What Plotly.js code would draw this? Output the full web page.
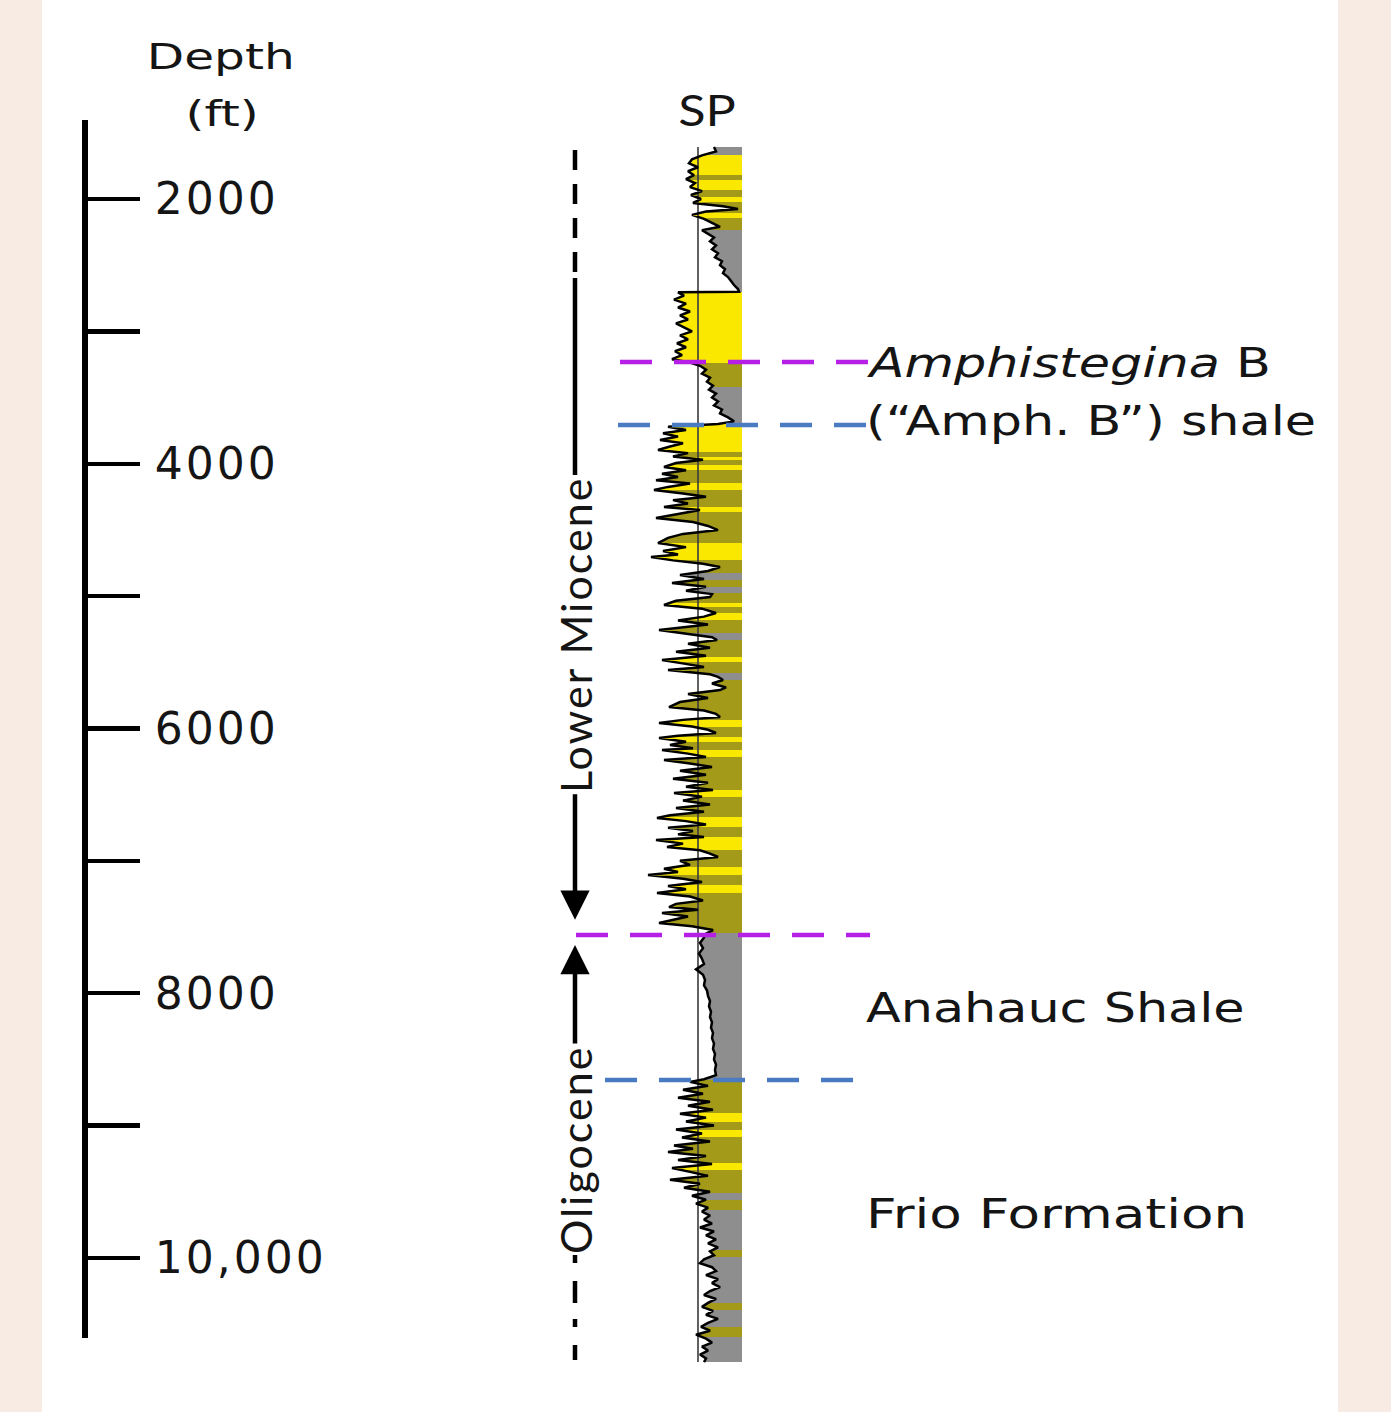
<!DOCTYPE html>
<html>
<head>
<meta charset="utf-8">
<script src="https://cdn.plot.ly/plotly-3.0.1.min.js"></script>
<style>
  html, body { margin: 0; padding: 0; background: #f8ebe3; }
  #chart { width: 1391px; height: 1412px; }
  .annotation-text { letter-spacing: 2px; }
  .y2tick text { letter-spacing: 3px; }
  .annotation[data-index="0"] .annotation-text,
  .annotation[data-index="1"] .annotation-text {
    letter-spacing: 0; transform: scaleX(1.35); transform-box: fill-box; transform-origin: center;
  }
  .annotation[data-index="2"] .annotation-text {
    letter-spacing: 0; transform: scaleX(1.2); transform-box: fill-box; transform-origin: center;
  }
  .annotation[data-index="7"] .annotation-text,
  .annotation[data-index="8"] .annotation-text,
  .annotation[data-index="9"] .annotation-text {
    letter-spacing: 0; transform: scaleX(1.27); transform-box: fill-box; transform-origin: left center;
  }
  .annotation[data-index="10"] .annotation-text {
    letter-spacing: 0; transform: scaleX(1.33); transform-box: fill-box; transform-origin: left center;
  }
</style>
</head>
<body>
<div id="chart"></div>
<script>
// ---------------- DATA ----------------
// Depth scale (ft)
const depthTicks = [2000, 3000, 4000, 5000, 6000, 7000, 8000, 9000, 10000];
const depthTickText = ['2000', '', '4000', '', '6000', '', '8000', '', '10,000'];

// Formation boundaries (ft)
const boundaryDepth = [3231, 3707, 7561, 8656];
const boundaryKind = ['top', 'base', 'top', 'base'];

// Formation labels
const formationLabels = ['<i>Amphistegina</i> B', '(\u201CAmph. B\u201D) shale', 'Anahauc Shale', 'Frio Formation'];
const formationLabelDepth = [3240, 3680, 8110, 9670];

// Series labels
const seriesLabels = ['Lower Miocene', 'Oligocene'];
const seriesLabelDepth = [5294, 9185];

// SP log: depth (ft) and SP deflection (mV, relative to shale baseline)
const spDepth = [
  1607,1640,1670,1700,1730,1760,1790,1820,1850,1880,1910,1940,1970,2000,2030,2055,2075,2095,2120,2150,2180,2210,2235,
  2260,2290,2320,2350,2380,2410,2440,2470,2500,2530,2560,2590,2620,2650,2680,2700,
  2705,2730,2760,2790,2820,2850,2880,2910,2940,2970,3000,3030,3060,3090,3120,3150,3180,3210,3235,
  3260,3290,3320,3350,3380,3410,3440,3470,3500,3530,3560,3590,3620,3650,3680,3700,
  3720,3745,3770,3795,3820,3845,3870,3896,3920,3945,3970,3995,4025,4050,4075,4100,4125,4150,4175,4199,
  4225,4250,4275,4300,4327,4350,4380,4410,4440,4470,4501,4530,4560,4599,4630,4660,4685,4705,4730,4755,
  4780,4810,4840,4870,4901,4930,4960,4985,5007,5035,5067,5095,5128,5155,5185,5215,5256,5285,5310,5332,
  5360,5390,5420,5450,5483,5510,5535,5558,5590,5610,5634,5660,5690,5710,5740,5770,5800,5838,5865,5890,
  5913,5935,5959,5985,6010,6034,6055,6072,6100,6125,6150,6163,6190,6215,6238,6265,6291,6320,6350,6380,
  6410,6440,6465,6488,6515,6545,6575,6600,6630,6655,6677,6700,6725,6750,6775,6800,6820,6843,6870,6896,
  6920,6945,6971,7000,7030,7060,7085,7107,7135,7160,7190,7215,7243,7270,7300,7325,7349,7370,7394,7420,
  7445,7470,7495,7523,7550,
  7580,7620,7660,7700,7740,7780,7820,7860,7900,7940,7980,8020,8060,8100,8140,8180,8220,8260,8300,8340,
  8380,8420,8460,8500,8540,8580,8620,8650,
  8670,8700,8730,8760,8790,8820,8850,8880,8910,8940,8970,9000,9030,9060,9090,9120,9150,9175,9200,9230,
  9260,9290,9320,9350,9380,9410,9440,9470,9500,9530,9560,9590,9620,9650,9680,9710,9740,9770,9800,9830,
  9860,9890,9920,9950,9980,10010,10040,10070,10100,10130,10160,10190,10220,10250,10280,10310,10340,10370,10400,10430,
  10460,10490,10520,10550,10580,10610,10640,10670,10700,10730,10760,10787
];
const spValue = [
  16,18,4,-6,-9,0,-10,-4,-12,-3,-8,4,-7,3,-5,25,40,8,-6,6,14,22,4,
  10,16,12,18,14,20,17,24,22,27,25,30,33,36,40,41,
  -20,-14,-24,-12,-20,-8,-18,-10,-22,-14,-6,-18,-10,-21,-12,-23,-16,-26,-8,
  2,8,4,12,9,15,11,18,14,20,16,24,22,30,36,20,
  -30,-12,-35,-20,-38,-15,-28,-40,-10,-25,5,-22,-34,-12,-36,-20,-42,-8,-30,-44,
  -15,8,-25,-10,-34,2,-20,-42,-5,10,20,-15,-30,-40,-12,-35,-20,-47,-25,5,
  22,10,-18,6,-26,8,-12,14,12,-22,-34,4,18,6,-20,10,-39,-8,14,19,
  -10,12,-22,8,-36,-14,6,-30,12,20,25,14,28,22,-10,10,-18,-29,6,18,
  22,-15,-39,-6,10,18,-20,-39,-12,-28,-5,-36,-10,8,-34,-8,14,-18,8,-25,
  10,-12,15,-24,4,-15,12,-22,6,-28,-41,-12,8,-30,-5,-20,6,-42,-15,-31,
  2,12,20,-18,-8,-34,-20,-50,-15,4,-30,-12,-41,-8,5,-22,-29,0,-36,-10,
  -25,-39,-6,15,8,
  6,2,5,1,4,6,-2,5,7,6,9,10,12,11,13,12,14,13,15,14,
  16,15,17,16,18,17,18,6,
  -8,10,-15,5,-20,12,-10,15,-18,8,-12,16,-22,4,-16,12,-24,-5,-30,8,
  -20,14,-26,-8,10,-28,2,-14,12,-6,8,-2,10,4,12,6,14,2,16,8,
  18,10,20,12,16,6,2,14,18,8,20,14,22,12,6,18,10,4,15,8,
  20,10,3,12,-2,8,14,4,10,2,8,6
];

// Lithology column: top depth of each band (ft) and lithology (0 shale, 1 shaly sand, 2 sand)
const lithTop = [
  1607,1668,1819,1856,1932,1985,2023,2106,2144,2234,2703,3239,3420,3695,
  3911,3949,3972,4010,4047,4146,4199,4327,4365,4599,4727,4826,4878,4931,4976,5052,
  5083,5128,5181,5279,5332,5460,5498,5581,5634,5936,5989,6065,6102,6163,6216,6465,
  6518,6669,6745,6820,6918,7047,7107,7183,7243,7545,
  8656,8905,8973,9033,9086,9283,9336,9509,9562,9638,9940,9993,10340,10394,10522,10597
];
const lithBase = 10787;
const lithCode = [
  0,2,1,2,1,2,1,2,1,0,2,1,0,2,
  1,2,1,2,1,2,1,2,1,2,1,0,1,0,1,2,
  1,2,1,0,1,2,1,0,1,2,1,2,1,2,1,2,
  1,2,1,2,1,2,1,2,1,0,
  1,2,1,2,1,2,1,0,1,0,1,0,1,0,1,0
];

// ---------------- RENDER ----------------
const W = 1391, H = 1412;
const px = x => x / W;
const py = y => 1 - y / H;

const lithEdges = lithTop.concat([lithBase]);
const lithZ = lithCode.map(c => [c]);

const maskX = [-60].concat(spValue, [-60]);
const maskY = [spDepth[0]].concat(spDepth, [spDepth[spDepth.length - 1]]);

const traces = [
  { // lithology column
    type: 'heatmap', xaxis: 'x2', yaxis: 'y',
    x: [-55, 44], y: lithEdges, z: lithZ,
    zmin: 0, zmax: 2, showscale: false, hoverinfo: 'skip',
    colorscale: [[0, '#8e8e8e'], [0.333, '#8e8e8e'], [0.333, '#a39a1a'], [0.667, '#a39a1a'], [0.667, '#fbe800'], [1, '#fbe800']]
  },
  { // white mask left of SP curve
    type: 'scatter', mode: 'lines', xaxis: 'x2', yaxis: 'y',
    x: maskX, y: maskY, fill: 'toself', fillcolor: '#ffffff',
    line: { width: 0, color: 'rgba(0,0,0,0)' }, hoverinfo: 'skip', showlegend: false
  },
  { // shale baseline
    type: 'scatter', mode: 'lines', xaxis: 'x2', yaxis: 'y',
    x: [0, 0], y: [spDepth[0], spDepth[spDepth.length - 1]],
    line: { width: 1.6, color: '#3a3a3a' }, hoverinfo: 'skip', showlegend: false
  },
  { // SP curve
    type: 'scatter', mode: 'lines', xaxis: 'x2', yaxis: 'y',
    x: spValue, y: spDepth,
    line: { width: 2.5, color: '#000000' }, hoverinfo: 'skip', showlegend: false
  },
  { // anchor for depth scale axis
    type: 'scatter', mode: 'markers', xaxis: 'x', yaxis: 'y2',
    x: [10], y: [depthTicks[0]], marker: { opacity: 0 }, hoverinfo: 'skip', showlegend: false
  }
];

const purple = '#b51fe6', blue = '#4a7bc2';
const lineStart = [620, 618, 576, 605];
const lineEnd = [870, 870, 870, 860];

const shapes = [
  { type: 'rect', xref: 'paper', yref: 'paper', x0: px(42), x1: px(1338), y0: 0, y1: 1,
    fillcolor: '#ffffff', line: { width: 0 }, layer: 'below' }
];
boundaryDepth.forEach((d, i) => {
  shapes.push({
    type: 'line', xref: 'paper', yref: 'y', x0: px(lineStart[i]), x1: px(lineEnd[i]), y0: d, y1: d,
    line: { color: boundaryKind[i] === 'top' ? purple : blue, width: 4.5, dash: '32px,22px' }
  });
});
// stratigraphic bracket line
const bx = px(575);
shapes.push({ type: 'line', xref: 'paper', yref: 'y', x0: bx, x1: bx, y0: 1630, y1: 2552,
  line: { color: '#000', width: 4.5, dash: '20px,14px' } });
shapes.push({ type: 'line', xref: 'paper', yref: 'y', x0: bx, x1: bx, y0: 2597, y1: 4085,
  line: { color: '#000', width: 4.5 } });
shapes.push({ type: 'line', xref: 'paper', yref: 'y', x0: bx, x1: bx, y0: 9978, y1: 10771,
  line: { color: '#000', width: 4.5, dash: '8px,18px,22px,16px' } });

const txt = '#151515';
const annotations = [
  { xref: 'paper', yref: 'paper', x: px(221), y: py(57), xanchor: 'center', yanchor: 'middle', text: 'Depth', showarrow: false,
    font: { family: 'DejaVu Sans', size: 36, color: txt } },
  { xref: 'paper', yref: 'paper', x: px(222), y: py(113), xanchor: 'center', yanchor: 'middle', text: '(ft)', showarrow: false,
    font: { family: 'DejaVu Sans', size: 36, color: txt } },
  { xref: 'paper', yref: 'paper', x: px(707), y: py(110), xanchor: 'center', yanchor: 'middle', text: 'SP', showarrow: false,
    font: { family: 'Lato', size: 42, color: txt } },
  // arrows
  { xref: 'paper', yref: 'y', x: bx, y: boundaryDepth[2] - 115, ax: 0, ay: -127, text: '',
    showarrow: true, arrowhead: 2, arrowsize: 1.3, arrowwidth: 4.5, arrowcolor: '#000' },
  { xref: 'paper', yref: 'y', x: bx, y: boundaryDepth[2] + 75, ax: 0, ay: 100, text: '',
    showarrow: true, arrowhead: 2, arrowsize: 1.3, arrowwidth: 4.5, arrowcolor: '#000' }
];
seriesLabels.forEach((t, i) => {
  annotations.push({ xref: 'paper', yref: 'y', x: bx, y: seriesLabelDepth[i], xanchor: 'center', yanchor: 'middle',
    text: t, textangle: -90, showarrow: false, font: { family: 'Lato', size: 43, color: txt } });
});
formationLabels.forEach((t, i) => {
  annotations.push({ xref: 'paper', yref: 'y', x: px(864), xanchor: 'left', align: 'left', yanchor: 'middle',
    y: formationLabelDepth[i], text: t,
    showarrow: false, font: { family: 'DejaVu Sans', size: 40, color: txt } });
});

const layout = {
  width: W, height: H,
  margin: { l: 0, r: 0, t: 0, b: 0, pad: 0 },
  paper_bgcolor: '#f8ebe3', plot_bgcolor: 'rgba(0,0,0,0)',
  showlegend: false,
  xaxis: { domain: [0, 1], range: [0, W], visible: false, fixedrange: true },
  yaxis: { domain: [0, 1], range: [11164, 496.5], visible: false, fixedrange: true },
  xaxis2: { domain: [px(598), px(758)], range: [-100, 60], anchor: 'y', visible: false, fixedrange: true },
  yaxis2: {
    domain: [74 / H, 1292 / H], range: [10605, 1403], anchor: 'free', position: px(85), side: 'right',
    tickmode: 'array', tickvals: depthTicks, ticktext: depthTickText,
    ticks: 'outside', ticklen: 52, tickwidth: 4.5, tickcolor: '#000',
    showline: true, linewidth: 6, linecolor: '#000',
    showgrid: false, zeroline: false, ticklabelstandoff: 6,
    tickfont: { family: 'DejaVu Sans', size: 44, color: txt }, fixedrange: true
  },
  shapes: shapes,
  annotations: annotations
};

Plotly.newPlot('chart', traces, layout, { staticPlot: true, displayModeBar: false });
</script>
</body>
</html>
